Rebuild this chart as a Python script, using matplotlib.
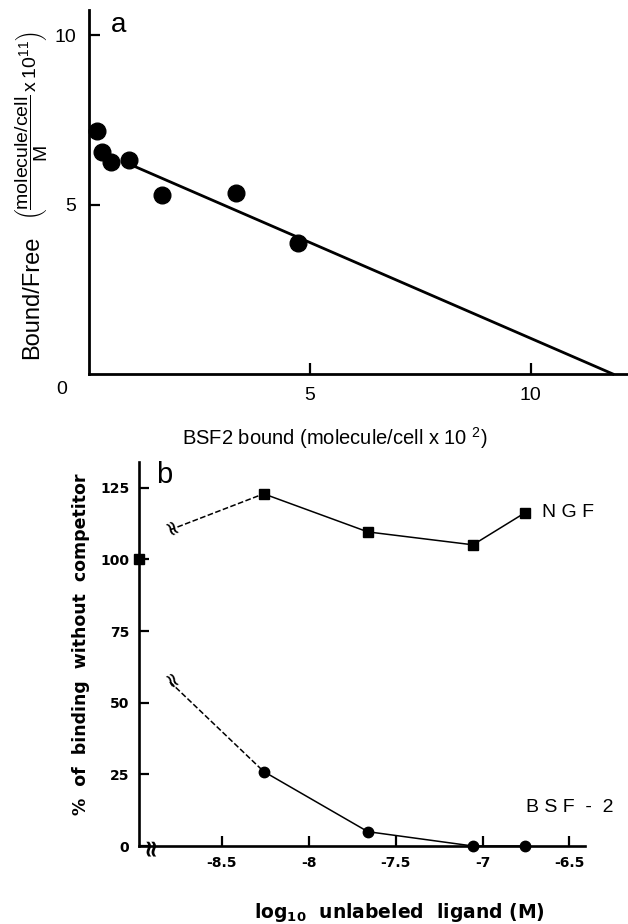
import matplotlib.pyplot as plt

plt.rcParams['mathtext.fontset'] = 'custom'
plt.rcParams['mathtext.rm'] = 'Liberation Sans'
plt.rcParams['mathtext.sf'] = 'Liberation Sans'
plt.rcParams['mathtext.bf'] = 'DejaVu Sans:bold'

# panel a: Scatchard plot
bound = [0.18, 0.29, 0.5, 0.9, 1.65, 3.33, 4.73]
bound_free = [7.17, 6.55, 6.25, 6.31, 5.28, 5.34, 3.86]
fit_x = [0.9, 11.86]
fit_y = [6.2, 0.0]

# panel b: competition binding
log_conc = [-8.26, -7.66, -7.055, -6.755]
ngf = [122.9, 109.6, 105.1, 116.3]
bsf2 = [26.0, 5.0, 0.0, 0.0]
x_break = -8.80
ngf_break = 110.3
bsf2_break = 57.3
x_axis = -8.978
control = 100.0

fig = plt.figure(figsize=(6.28, 9.24), dpi=100)

# ---------- panel a ----------
ax = fig.add_axes([0.1417, 0.5952, 0.8583, 0.394])
ax.plot(fit_x, fit_y, color='black', lw=2, clip_on=False)
ax.plot(bound, bound_free, 'o', color='black', ms=12, clip_on=False)
ax.set_xlim(0, 12.2)
ax.set_ylim(0, 10.74)
for s in ['top', 'right']:
    ax.spines[s].set_visible(False)
for s in ['left', 'bottom']:
    ax.spines[s].set_linewidth(2)
ax.set_xticks([5, 10])
ax.set_yticks([5, 10])
ax.tick_params(direction='in', length=8, width=1.6, labelsize=14, pad=9)
for lbl in ax.get_xticklabels() + ax.get_yticklabels():
    lbl.set_family('Liberation Sans')
ax.text(-0.5, -0.2, '0', fontsize=14, family='Liberation Sans', ha='right', va='top')
ax.text(0.5, 10.3, 'a', fontsize=20, family='Liberation Sans', va='center')
ax.set_xlabel(r'BSF2 bound (molecule/cell x 10 $^{2}$)', fontsize=14.5,
              family='Liberation Sans')
ax.xaxis.set_label_coords(0.4556, -0.176)
ax.xaxis.label.set_va('center')
# y label in two pieces so the fraction keeps a readable size
ax.text(-0.1056, 0.2115, 'Bound/Free', fontsize=17, family='Liberation Sans',
        rotation=90, ha='center', va='center', transform=ax.transAxes)
ax.text(-0.1056, 0.681,
        r'$\left(\dfrac{\mathsf{molecule/cell}}{\mathsf{M}}\mathsf{\,x\,10^{11}}\right)$',
        fontsize=14, rotation=90, ha='center', va='center', transform=ax.transAxes)

# ---------- panel b ----------
bx = fig.add_axes([0.2213, 0.0844, 0.7102, 0.4156])
bx.plot([x_break, log_conc[0]], [ngf_break, ngf[0]], '--', color='black', lw=1.1)
bx.plot([x_break, log_conc[0]], [bsf2_break, bsf2[0]], '--', color='black', lw=1.1)
bx.plot(log_conc, ngf, '-s', color='black', lw=1.1, ms=7.5, clip_on=False)
bx.plot(log_conc, bsf2, '-o', color='black', lw=1.1, ms=7.5, clip_on=False)
bx.plot([x_axis], [control], 's', color='black', ms=7.5, clip_on=False)
bx.text(x_break, ngf_break, '≈', fontsize=15, rotation=-60, ha='center', va='center')
bx.text(x_break, bsf2_break, '≈', fontsize=15, rotation=-60, ha='center', va='center')
bx.text(-8.915, 0, '≈', fontsize=17, rotation=90, ha='center', va='center',
        fontweight='bold', clip_on=False)
bx.set_xlim(x_axis, -6.41)
bx.set_ylim(0, 134)
for s in ['top', 'right']:
    bx.spines[s].set_visible(False)
for s in ['left', 'bottom']:
    bx.spines[s].set_linewidth(1.9)
bx.set_xticks([-8.5, -8, -7.5, -7, -6.5])
bx.set_xticklabels(['-8.5', '-8', '-7.5', '-7', '-6.5'])
bx.set_yticks([0, 25, 50, 75, 100, 125])
bx.tick_params(direction='in', length=7, width=1.6, labelsize=10, pad=7)
for lbl in bx.get_xticklabels() + bx.get_yticklabels():
    lbl.set_fontweight('bold')
bx.text(-6.66, ngf[-1], 'N G F', fontsize=14, family='Liberation Sans', va='center')
bx.text(-6.75, 13.5, 'B S F  -  2', fontsize=14, family='Liberation Sans', va='center')
bx.text(-8.88, 129.5, 'b', fontsize=21, family='Liberation Sans', va='center')
bx.set_ylabel('%  of  binding  without  competitor', fontsize=12.5, fontweight='bold')
bx.yaxis.set_label_coords(-0.130, 0.526)
bx.yaxis.label.set_va('center')
bx.set_xlabel(r'log$_{\mathbf{10}}$  unlabeled  ligand (M)', fontsize=13.5, fontweight='bold')
bx.xaxis.set_label_coords(0.585, -0.172)
bx.xaxis.label.set_va('center')

fig.savefig('out.png', dpi=100)
